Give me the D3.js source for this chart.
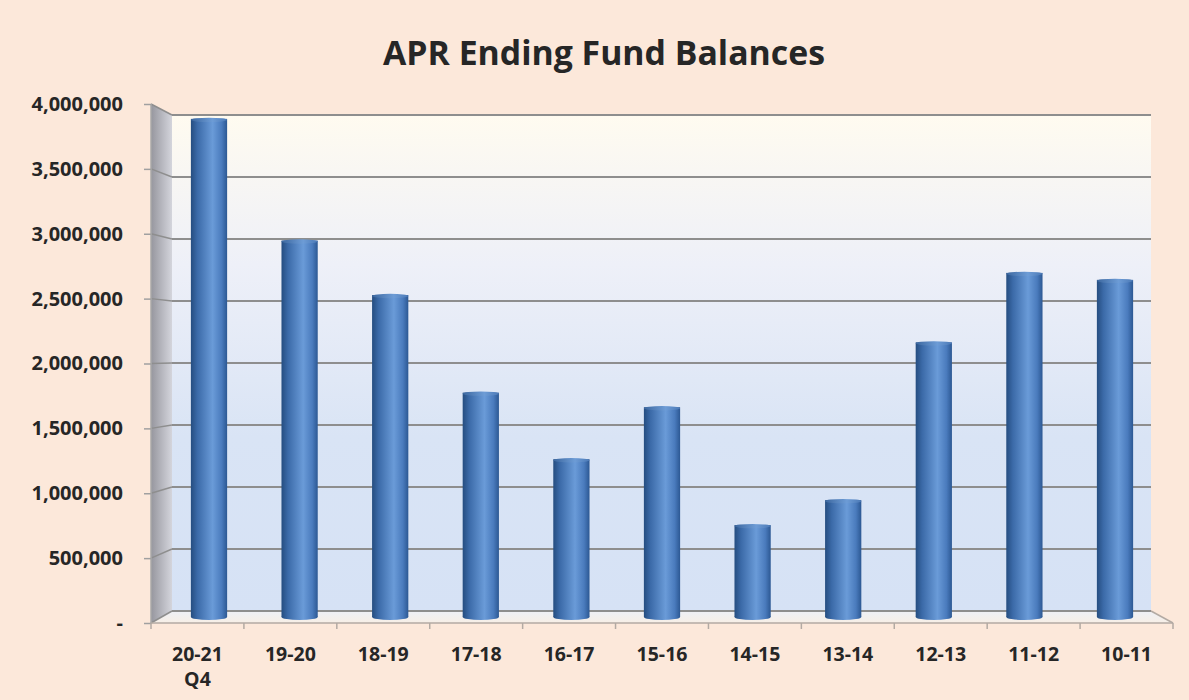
<!DOCTYPE html>
<html>
<head>
<meta charset="utf-8">
<script src="https://cdn.jsdelivr.net/npm/d3@7"></script>
<style>
  html, body { margin: 0; padding: 0; background: #fce8da; }
  svg { display: block; }
  text { font-family: "Open Sans", "Liberation Sans", sans-serif; font-weight: bold; fill: #262626; }
</style>
</head>
<body>
<svg id="chart" width="1189" height="700"></svg>
<script>
// ---- data ----
const categories = ["20-21 Q4", "19-20", "18-19", "17-18", "16-17", "15-16", "14-15", "13-14", "12-13", "11-12", "10-11"];
const balances = [3930000, 2970000, 2540000, 1770000, 1245000, 1655000, 725000, 922000, 2167000, 2715000, 2660000];
const yTicks = [0, 500000, 1000000, 1500000, 2000000, 2500000, 3000000, 3500000, 4000000];
const title = "APR Ending Fund Balances";

const svg = d3.select("#chart");
const W = 1189, H = 700;

// 3D-ish geometry: back wall, front edge, and the bar plane in between
const backL = 172, backR = 1151, frontL = 151, frontR = 1173;
const yBack = d3.scaleLinear().domain([0, 4000000]).range([611, 115]);
const yFront = d3.scaleLinear().domain([0, 4000000]).range([623, 104]);
const yBar = d3.scaleLinear().domain([0, 4000000]).range([617, 110]);

const xBar = d3.scaleBand().domain(categories).range([163.7, 1160.3]).paddingInner(0.6).paddingOuter(0.3);
const xFront = d3.scaleBand().domain(categories).range([frontL, frontR]);

const defs = svg.append("defs");
const wallGrad = defs.append("linearGradient").attr("id", "wall").attr("x1", 0).attr("y1", 0).attr("x2", 0).attr("y2", 1);
wallGrad.append("stop").attr("offset", "0%").attr("stop-color", "#fffbf0");
wallGrad.append("stop").attr("offset", "30%").attr("stop-color", "#eef0f8");
wallGrad.append("stop").attr("offset", "65%").attr("stop-color", "#d9e4f5");
wallGrad.append("stop").attr("offset", "100%").attr("stop-color", "#d6e2f5");

const sideGrad = defs.append("linearGradient").attr("id", "side").attr("x1", 0).attr("y1", 0).attr("x2", 1).attr("y2", 0);
sideGrad.append("stop").attr("offset", "0%").attr("stop-color", "#96969e");
sideGrad.append("stop").attr("offset", "100%").attr("stop-color", "#d4d5dc");

const floorGrad = defs.append("linearGradient").attr("id", "floor").attr("x1", 0).attr("y1", 0).attr("x2", 0).attr("y2", 1);
floorGrad.append("stop").attr("offset", "0%").attr("stop-color", "#eef0f6");
floorGrad.append("stop").attr("offset", "100%").attr("stop-color", "#f7efe6");

const barGrad = defs.append("linearGradient").attr("id", "bar").attr("x1", 0).attr("y1", 0).attr("x2", 1).attr("y2", 0);
barGrad.append("stop").attr("offset", "0%").attr("stop-color", "#254d80");
barGrad.append("stop").attr("offset", "18%").attr("stop-color", "#3b6aa8");
barGrad.append("stop").attr("offset", "60%").attr("stop-color", "#6a9bd8");
barGrad.append("stop").attr("offset", "85%").attr("stop-color", "#4a7bbd");
barGrad.append("stop").attr("offset", "100%").attr("stop-color", "#2c5893");

const capGrad = defs.append("linearGradient").attr("id", "cap").attr("x1", 0).attr("y1", 0).attr("x2", 1).attr("y2", 0);
capGrad.append("stop").attr("offset", "0%").attr("stop-color", "#3c679f");
capGrad.append("stop").attr("offset", "60%").attr("stop-color", "#6d9cd6");
capGrad.append("stop").attr("offset", "100%").attr("stop-color", "#4b79b6");

const wallTop = yBack(4000000), wallBot = yBack(0);

// back wall
svg.append("rect").attr("x", backL).attr("y", wallTop).attr("width", backR - backL).attr("height", wallBot - wallTop)
  .attr("fill", "url(#wall)");

// side wall
svg.append("polygon")
  .attr("points", [[frontL, yFront(4000000)], [backL, wallTop], [backL, wallBot], [frontL, yFront(0)]].map(p => p.join(",")).join(" "))
  .attr("fill", "url(#side)");

// floor
svg.append("polygon")
  .attr("points", [[frontL, yFront(0)], [backL, wallBot], [backR, wallBot], [frontR, yFront(0)]].map(p => p.join(",")).join(" "))
  .attr("fill", "url(#floor)");

// gridlines on back wall + side wall
const grid = svg.append("g");
yTicks.forEach(t => {
  grid.append("line").attr("x1", backL).attr("x2", backR).attr("y1", yBack(t)).attr("y2", yBack(t))
    .attr("stroke", "#8e8e8e").attr("stroke-width", 2);
  grid.append("line").attr("x1", frontL).attr("x2", backL).attr("y1", yFront(t)).attr("y2", yBack(t))
    .attr("stroke", "#8e8e8e").attr("stroke-width", 1.5);
});

// vertical axis line (front-left edge) and ticks
svg.append("line").attr("x1", frontL).attr("x2", frontL).attr("y1", yFront(4000000)).attr("y2", yFront(0))
  .attr("stroke", "#a9a9a9").attr("stroke-width", 1.5);
const yAxis = d3.axisLeft(yFront).tickValues(yTicks).tickSize(7).tickPadding(21)
  .tickFormat(d => d === 0 ? "-" : d3.format(",")(d));
const gy = svg.append("g").attr("transform", `translate(${frontL},0)`).call(yAxis);
gy.select(".domain").remove();
gy.selectAll(".tick line").attr("stroke", "#a0a0a0").attr("stroke-width", 1.5);
gy.selectAll(".tick text").style("font-size", "20px").attr("fill", "#262626");

// bars (cylinders)
const bars = svg.append("g");
categories.forEach((c, i) => {
  const x = xBar(c), w = xBar.bandwidth();
  const top = yBar(balances[i]), bot = yBar(0);
  bars.append("ellipse").attr("cx", x + w / 2).attr("cy", bot).attr("rx", w / 2).attr("ry", 3)
    .attr("fill", "url(#bar)");
  bars.append("rect").attr("x", x).attr("y", top).attr("width", w).attr("height", bot - top)
    .attr("fill", "url(#bar)");
  bars.append("ellipse").attr("cx", x + w / 2).attr("cy", top + 1).attr("rx", w / 2).attr("ry", 2.2)
    .attr("fill", "url(#cap)");
});

// front floor edge + category ticks
svg.append("line").attr("x1", frontL).attr("x2", frontR).attr("y1", yFront(0)).attr("y2", yFront(0))
  .attr("stroke", "#b3aaa3").attr("stroke-width", 1.5);
svg.append("line").attr("x1", backR).attr("x2", frontR).attr("y1", wallBot).attr("y2", yFront(0))
  .attr("stroke", "#b3aaa3").attr("stroke-width", 1.5);
const boundaries = categories.map(c => xFront(c)).concat([frontR]);
svg.append("g").selectAll("line").data(boundaries).join("line")
  .attr("x1", d => d).attr("x2", d => d).attr("y1", yFront(0)).attr("y2", yFront(0) + 6)
  .attr("stroke", "#b3aaa3").attr("stroke-width", 1.5);

// category labels
const xl = svg.append("g");
categories.forEach(c => {
  const parts = c.split(" ");
  const t = xl.append("text").attr("x", xFront(c) + xFront.bandwidth() / 2).attr("y", 661)
    .attr("text-anchor", "middle").style("font-size", "19.5px");
  parts.forEach((p, j) => {
    t.append("tspan").attr("x", xFront(c) + xFront.bandwidth() / 2).attr("dy", j === 0 ? 0 : 25).text(p);
  });
});

// title
const tt = svg.append("text").attr("x", 604).attr("y", 65).attr("text-anchor", "middle")
  .style("font-size", "30px").attr("fill", "#1a1a1a").text(title);
const tw = tt.node().getComputedTextLength();
tt.style("font-size", (30 * 442 / tw).toFixed(1) + "px");
</script>
</body>
</html>
